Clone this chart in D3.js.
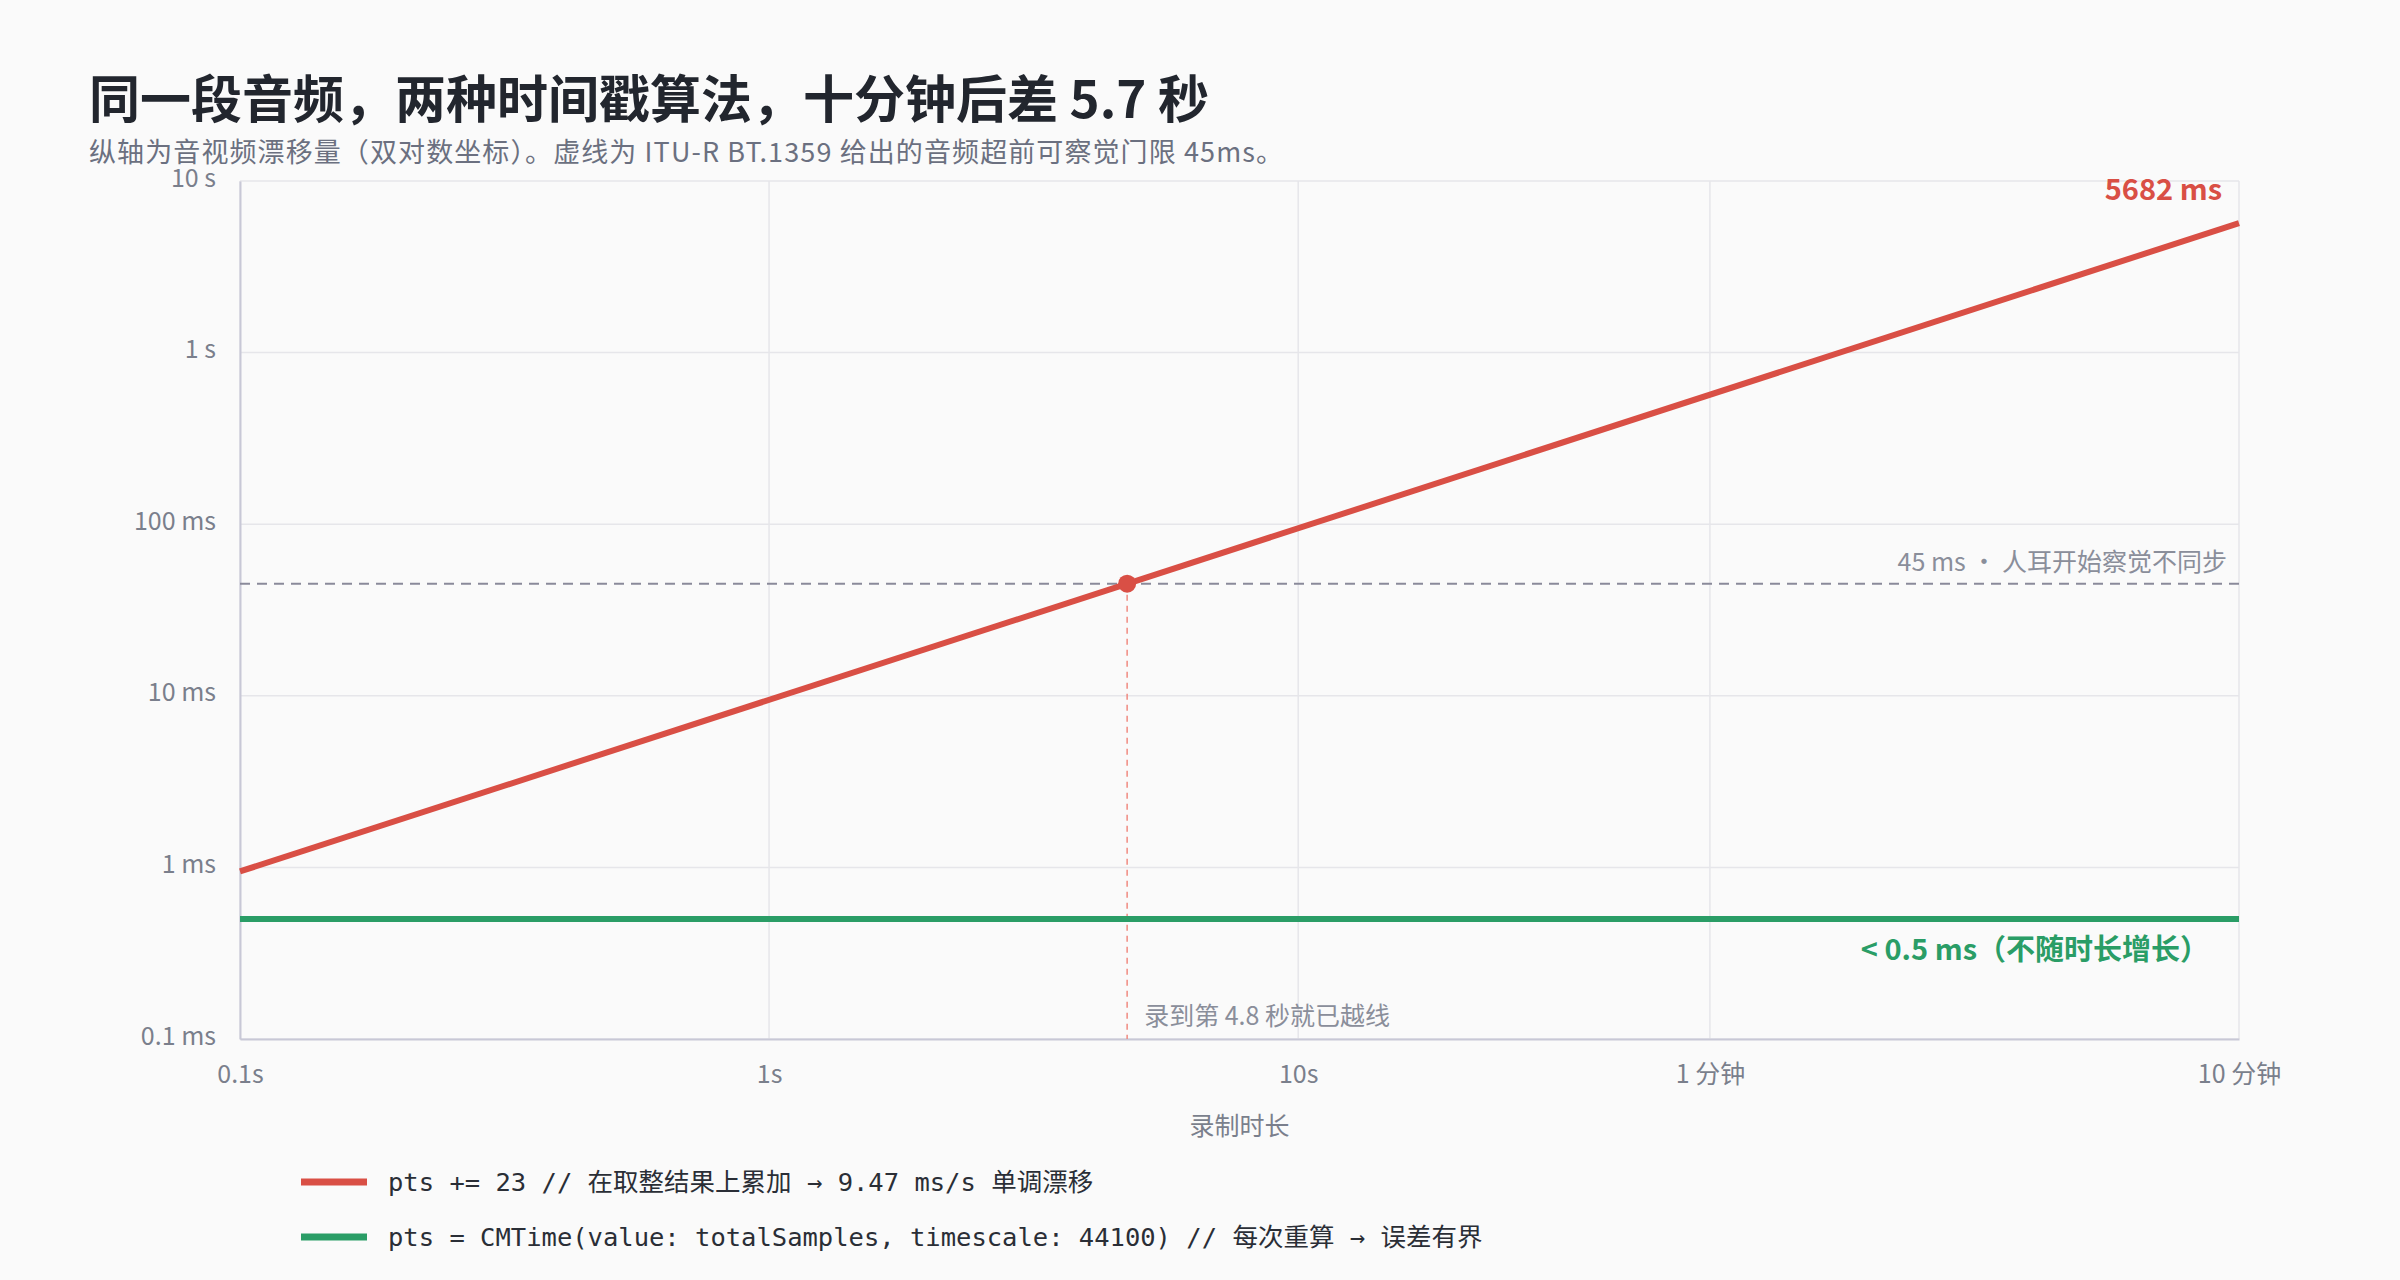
<!DOCTYPE html>
<html><head><meta charset="utf-8">
<script src="https://cdn.jsdelivr.net/npm/d3@7/dist/d3.min.js"></script>
<style>body{margin:0;background:#fafafa;font-family:"Noto Sans CJK SC","Noto Sans",sans-serif}</style>
</head><body><svg id="c" width="2400" height="1280"></svg>
<script>
const xTicks = [0.1, 1, 10, 60, 600];
const xTickLabels = ["0.1s", "1s", "10s", "1 分钟", "10 分钟"];
const yTicks = [0.1, 1, 10, 100, 1000, 10000];
const yTickLabels = ["0.1 ms", "1 ms", "10 ms", "100 ms", "1 s", "10 s"];
const seconds = [0.1, 600];
const accumulatedDrift = [0.947, 5682];
const recomputedDrift = [0.5, 0.5];
const threshold = 45;
const crossSec = 4.75;
const legendLabels = ["pts += 23 // 在取整结果上累加 → 9.47 ms/s 单调漂移", "pts = CMTime(value: totalSamples, timescale: 44100) // 每次重算 → 误差有界"];
const colors = ["#d94f45", "#2a9d66"];

const svg = d3.select("#c");
const L = 240, R = 2239, T = 181, B = 1039;
const x = d3.scaleLog().domain([0.1, 600]).range([L, R]);
const y = d3.scaleLog().domain([0.1, 10000]).range([B, T]);

svg.append("text").attr("x", 89).attr("y", 118).attr("font-size", 51).attr("font-weight", 700).attr("fill", "#22262e").text("同一段音频，两种时间戳算法，十分钟后差 5.7 秒");
svg.append("text").attr("x", 89).attr("y", 162).attr("font-size", 27).attr("fill", "#6b7080").attr("textLength", 1194).text("纵轴为音视频漂移量（双对数坐标）。虚线为 ITU-R BT.1359 给出的音频超前可察觉门限 45ms。");

const g = svg.append("g");
g.selectAll(".gx").data(xTicks).join("line").attr("x1", d => x(d)).attr("x2", d => x(d)).attr("y1", T).attr("y2", B).attr("stroke", "#e6e6ea").attr("stroke-width", 1.5);
g.selectAll(".gy").data(yTicks).join("line").attr("y1", d => y(d)).attr("y2", d => y(d)).attr("x1", L).attr("x2", R).attr("stroke", "#e6e6ea").attr("stroke-width", 1.5);

const xa = svg.append("g").attr("transform", `translate(0,${B})`).call(d3.axisBottom(x).tickValues(xTicks).tickFormat((d, i) => xTickLabels[i]).tickSize(0).tickPadding(26));
const ya = svg.append("g").attr("transform", `translate(${L},0)`).call(d3.axisLeft(y).tickValues(yTicks).tickFormat((d, i) => yTickLabels[i]).tickSize(0).tickPadding(24));
[xa, ya].forEach(a => { a.select(".domain").attr("stroke", "#c8c8d6").attr("stroke-width", 2); a.selectAll("text").attr("font-size", 25).attr("fill", "#7a7f8c").attr("font-family", "Noto Sans CJK SC"); });
ya.selectAll(".tick text").attr("dy", "0.2em");

svg.append("text").attr("x", (L + R) / 2).attr("y", 1135).attr("text-anchor", "middle").attr("font-size", 25).attr("fill", "#7a7f8c").text("录制时长");

svg.append("line").attr("x1", L).attr("x2", R).attr("y1", y(threshold)).attr("y2", y(threshold)).attr("stroke", "#8a8a9a").attr("stroke-width", 2).attr("stroke-dasharray", "10,7");
svg.append("text").attr("x", 2227).attr("y", y(threshold) - 13).attr("text-anchor", "end").attr("font-size", 25).attr("fill", "#8a8e9a").text("45 ms · 人耳开始察觉不同步");
svg.append("line").attr("x1", x(crossSec)).attr("x2", x(crossSec)).attr("y1", y(threshold)).attr("y2", B).attr("stroke", "#f08a80").attr("stroke-width", 1.5).attr("stroke-dasharray", "6,5");
svg.append("text").attr("x", x(crossSec) + 17).attr("y", 1025).attr("font-size", 25).attr("fill", "#8a8e9a").text("录到第 4.8 秒就已越线");

const line = d3.line().x(d => x(d[0])).y(d => y(d[1]));
svg.append("path").attr("d", line(seconds.map((s, i) => [s, accumulatedDrift[i]]))).attr("fill", "none").attr("stroke", colors[0]).attr("stroke-width", 6);
svg.append("path").attr("d", line(seconds.map((s, i) => [s, recomputedDrift[i]]))).attr("fill", "none").attr("stroke", colors[1]).attr("stroke-width", 6);
svg.append("circle").attr("cx", x(crossSec)).attr("cy", y(threshold)).attr("r", 9).attr("fill", colors[0]);

svg.append("text").attr("x", 2222).attr("y", 200).attr("text-anchor", "end").attr("font-size", 29).attr("font-weight", 700).attr("fill", colors[0]).text("5682 ms");
svg.append("text").attr("x", 2209).attr("y", 960).attr("text-anchor", "end").attr("font-size", 29).attr("font-weight", 700).attr("fill", colors[1]).text("< 0.5 ms（不随时长增长）");

legendLabels.forEach((t, i) => {
  const yy = 1182 + i * 55;
  svg.append("line").attr("x1", 301).attr("x2", 367).attr("y1", yy).attr("y2", yy).attr("stroke", colors[i]).attr("stroke-width", 7);
  svg.append("text").attr("x", 388).attr("y", yy + 9).attr("font-size", 25.5).attr("fill", "#2a2e36").attr("font-family", "DejaVu Sans Mono, Noto Sans CJK SC, monospace").text(t);
});
</script></body></html>
